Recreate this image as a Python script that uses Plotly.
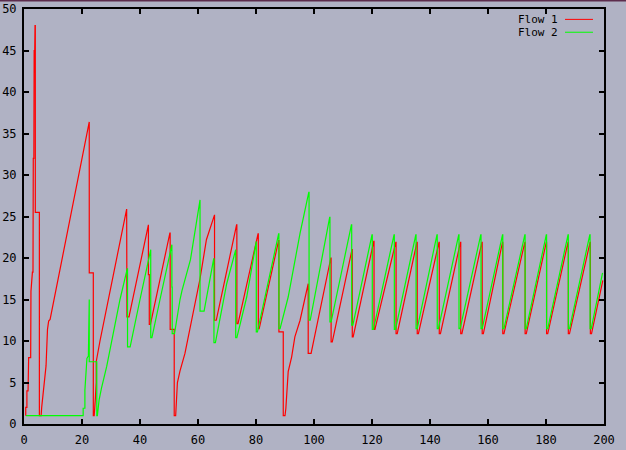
import plotly.graph_objects as go

# Flow 1 (red) congestion window: time, value
flow1_t = [0.6, 0.6, 1.0, 1.0, 1.4, 1.4, 1.6, 2.3, 2.4, 2.9, 3.1, 3.2, 3.4, 3.5, 3.7, 3.8, 3.9, 3.9, 5.3, 5.3,
           5.9, 6.1, 6.9, 7.6, 8.1, 8.5, 9.0, 22.4, 22.5, 22.5, 23.9, 23.9, 24.2, 24.6, 24.9, 24.9, 25.9, 26.2,
           35.4, 35.5, 36.2, 42.8, 42.9, 42.9, 43.2, 43.2, 43.6, 50.3, 50.4, 50.4, 51.8, 51.8, 52.3, 52.9, 53.8,
           55.5, 60.7, 62.9, 64.1, 65.6, 65.7, 65.7, 66.3, 73.3, 73.4, 73.4, 73.8, 80.7, 80.8, 80.8, 81.1, 87.8,
           87.9, 87.9, 89.4, 89.4, 90.0, 90.3, 90.8, 91.1, 92.3, 93.4, 95.2, 97.8, 98.0, 98.0, 99.0, 105.8,
           105.9, 105.9, 106.3, 113.1, 113.2, 113.2, 113.5, 120.6, 120.7, 120.7, 121.0, 128.2, 128.3, 128.3,
           128.7, 135.5, 135.6, 135.6, 136.0, 143.1, 143.2, 143.2, 143.6, 150.5, 150.6, 150.6, 151.0, 157.9,
           158.0, 158.0, 158.4, 165.0, 165.1, 165.1, 165.5, 172.7, 172.8, 172.8, 173.2, 180.1, 180.2, 180.2,
           180.6, 187.6, 187.7, 187.7, 188.1, 195.2, 195.3, 195.3, 195.7, 199.6]
flow1_cwnd = [1, 2, 2, 4, 4, 7.5, 8, 8, 16, 18.3, 18.3, 32, 32, 45, 45, 48, 48, 25.5, 25.5, 1,
              1, 2, 5, 7, 11.4, 12.4, 12.6, 36.4, 36.4, 18.2, 18.2, 1, 1, 3, 5, 7.5, 9.3, 10,
              25.9, 12.9, 12.9, 24.0, 24.0, 18.0, 18.0, 12.0, 12.0, 23.0, 23.0, 11.4, 11.4, 1, 1, 5, 6.4,
              8.5, 17.5, 22.2, 23.6, 25.2, 25.2, 12.5, 12.5, 24.0, 24.0, 12.1, 12.1, 22.9, 22.9, 11.5, 11.5, 22.1,
              22.1, 11.1, 11.1, 1, 1, 1.9, 5.7, 6.3, 8.1, 10.5, 12.5, 16.9, 16.9, 8.5, 8.5, 20.0,
              20.0, 9.9, 9.9, 21.0, 21.0, 10.5, 10.5, 22.0, 22.0, 11.4, 11.4, 21.9, 21.9, 10.9,
              10.9, 21.9, 21.9, 10.9, 10.9, 21.9, 21.9, 10.9, 10.9, 21.9, 21.9, 10.9, 10.9, 21.9,
              21.9, 10.9, 10.9, 21.9, 21.9, 10.9, 10.9, 21.9, 21.9, 10.9, 10.9, 21.9, 21.9, 10.9,
              10.9, 21.9, 21.9, 10.9, 10.9, 21.9, 21.9, 10.9, 10.9, 17.3]

# Flow 2 (green) congestion window: time, value
flow2_t = [0.7, 20.4, 20.4, 21.0, 21.0, 21.7, 22.2, 22.3, 22.5, 22.5, 25.1, 25.1, 25.3, 25.9, 26.7, 28.5,
           30.8, 33.1, 35.6, 35.7, 35.7, 36.6, 40.0, 43.6, 43.7, 43.7, 44.1, 46.9, 50.3, 50.9, 51.0, 51.0,
           51.1, 51.1, 51.9, 53.8, 54.5, 57.4, 60.6, 60.7, 60.7, 62.1, 65.4, 65.5, 65.5, 66.0, 69.9, 72.9,
           73.0, 73.0, 73.4, 76.8, 80.0, 80.1, 80.1, 80.5, 87.8, 87.9, 87.9, 88.3, 91.1, 95.2, 98.2, 98.3,
           98.3, 98.7, 105.4, 105.5, 105.5, 105.9, 112.9, 113.0, 113.0, 113.4, 120.0, 120.1, 120.1, 120.5,
           127.6, 127.7, 127.7, 128.1, 135.1, 135.2, 135.2, 135.6, 142.4, 142.5, 142.5, 142.9, 149.9, 150.0,
           150.0, 150.4, 157.5, 157.6, 157.6, 158.0, 165.0, 165.1, 165.1, 165.5, 172.7, 172.8, 172.8, 173.2,
           180.1, 180.2, 180.2, 180.6, 187.6, 187.7, 187.7, 188.1, 195.1, 195.2, 195.2, 195.6, 199.5]
flow2_cwnd = [1, 1, 1.9, 1.9, 4.1, 7.9, 8.2, 15.0, 15.0, 7.5, 7.5, 1, 1, 2.9, 4.3, 6.9,
              10.9, 15, 18.7, 18.7, 9.3, 9.3, 15, 21, 21, 10.4, 10.4, 15, 20.6, 21.6, 21.6, 16.5,
              16.5, 10.9, 10.9, 15, 16.1, 19.8, 27, 27, 13.6, 13.6, 19.9, 19.9, 9.8, 9.8, 16.9, 21,
              21, 10.4, 10.4, 15.3, 22, 22, 11.1, 11.1, 22.9, 22.9, 11.5, 11.5, 15.3, 23.0, 27.9, 27.9,
              12.5, 12.5, 24.9, 24.9, 12.3, 12.3, 24.0, 24.0, 11.9, 11.9, 22.8, 22.8, 11.4, 11.4,
              22.8, 22.8, 11.4, 11.4, 22.8, 22.8, 11.5, 11.5, 22.8, 22.8, 11.5, 11.5, 22.8, 22.8,
              11.5, 11.5, 22.8, 22.8, 11.5, 11.5, 22.8, 22.8, 11.5, 11.5, 22.8, 22.8, 11.5, 11.5,
              22.8, 22.8, 11.5, 11.5, 22.8, 22.8, 11.5, 11.5, 22.8, 22.8, 11.5, 11.5, 18.2]

x_ticks = [0, 20, 40, 60, 80, 100, 120, 140, 160, 180, 200]
y_ticks = [0, 5, 10, 15, 20, 25, 30, 35, 40, 45, 50]
series_names = ["Flow 1", "Flow 2"]
series_colors = ["#ff0000", "#00ff00"]

BG = "#b0b2c4"
FONT = "DejaVu Sans Mono"

fig = go.Figure()
fig.add_trace(go.Scatter(x=flow1_t, y=flow1_cwnd, mode="lines", name=series_names[0],
                         line=dict(color=series_colors[0], width=1.2)))
fig.add_trace(go.Scatter(x=flow2_t, y=flow2_cwnd, mode="lines", name=series_names[1],
                         line=dict(color=series_colors[1], width=1.2)))

axis_common = dict(showline=True, linecolor="black", linewidth=2, mirror="ticks",
                   ticks="inside", ticklen=5, tickwidth=2, tickcolor="black",
                   showgrid=False, zeroline=False, automargin=False,
                   tickfont=dict(family=FONT, size=12, color="black"))
fig.update_xaxes(range=[0, 200], tickvals=x_ticks, ticktext=[str(v) for v in x_ticks],
                 ticklabelstandoff=4, **axis_common)
fig.update_yaxes(range=[0, 50], tickvals=y_ticks, ticktext=[str(v) for v in y_ticks],
                 ticklabelstandoff=3, **axis_common)

# gnuplot-style legend: text right-aligned, line sample to the right
legend_y = [0.975, 0.944]
for name, color, ly in zip(series_names, series_colors, legend_y):
    fig.add_annotation(x=0.9207, y=ly, xref="paper", yref="paper", text=name, showarrow=False,
                       xanchor="right", yanchor="middle", xshift=2,
                       font=dict(family=FONT, size=11, color="black"))
    fig.add_shape(type="line", xref="paper", yref="paper", x0=0.9328, x1=0.981, y0=ly, y1=ly,
                  line=dict(color=color, width=1))

# dark window frame line at the very top
fig.add_shape(type="line", xref="paper", yref="paper", x0=-0.05, x1=1.05, y0=1.0205, y1=1.0205,
              line=dict(color="#5c2c4c", width=2))

fig.update_layout(width=626, height=450, margin=dict(l=24, r=22, t=9, b=26, autoexpand=False),
                  paper_bgcolor=BG, plot_bgcolor=BG, showlegend=False)

fig.write_html("out.html", config={"displayModeBar": False},
               post_script="document.body.style.margin='0';document.body.style.padding='0';"
                           "document.body.style.background='" + BG + "';")
